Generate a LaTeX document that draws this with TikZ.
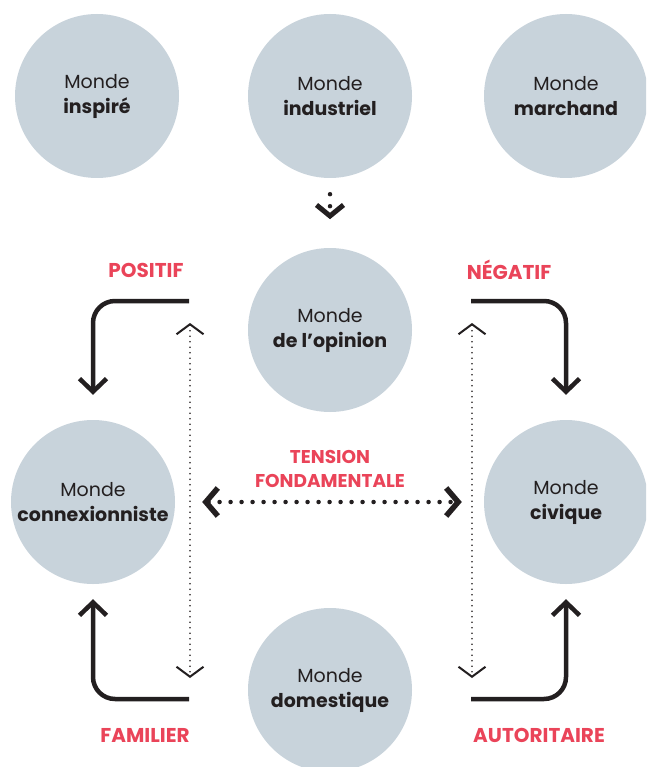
\documentclass[tikz,border=0pt]{standalone}
\usepackage{fontspec}
\setmainfont{Poppins}
\usetikzlibrary{arrows.meta}
\definecolor{worldfill}{HTML}{C8D3DB}
\definecolor{accent}{HTML}{EA4459}
\definecolor{ink}{HTML}{231F20}
\begin{document}
\begin{tikzpicture}[x=1pt,y=-1pt,
  world/.style={circle, fill=worldfill, minimum size=164pt, inner sep=0pt,
    align=center, font=\fontsize{19}{25}\selectfont, text=ink},
  tag/.style={text=accent, font=\bfseries\fontsize{20}{25}\selectfont, align=center},
  flow/.style={line width=4.5pt, draw=ink, rounded corners=22pt,
    -{Straight Barb[length=13pt,width=27pt]}},
  dotlink/.style={line width=1.6pt, draw=ink, dash pattern=on 0pt off 5.5pt, line cap=round,
    {Straight Barb[length=10pt,width=27pt,line width=2pt]}-{Straight Barb[length=10pt,width=27pt,line width=2pt]}},
  strain/.style={line width=4.5pt, draw=ink, dash pattern=on 0pt off 11pt, line cap=round,
    {Straight Barb[length=12pt,width=28pt,line width=5.5pt]}-{Straight Barb[length=12pt,width=28pt,line width=5.5pt]}},
  hintarrow/.style={line width=4.5pt, draw=ink, dash pattern=on 0pt off 12pt, line cap=round,
    -{Straight Barb[length=11pt,width=27pt,line width=5pt]}}
]
\useasboundingbox (0,0) rectangle (646,767);
\clip (0,0) rectangle (646,767);

% the seven worlds
\node[world] (insp) at (97,96)  {Monde\\\textbf{inspiré}};
\node[world] (ind)  at (330,96) {Monde\\\textbf{industriel}};
\node[world] (marc) at (566,96) {Monde\\\textbf{marchand}};
\node[world] (opin) at (330,330) {Monde\\\textbf{de l’opinion}};
\node[world] (conn) at (93,502) {Monde\\\textbf{connexionniste}};
\node[world] (civ)  at (566,502) {Monde\\\textbf{civique}};
\node[world] (dom)  at (330,690) {Monde\\\textbf{domestique}};

% labels
\node[tag] (pos) at (146,270) {POSITIF};
\node[tag] (neg) at (509,270) {NÉGATIF};
\node[tag] (fam) at (145,735) {FAMILIER};
\node[tag] (aut) at (539,735) {AUTORITAIRE};
\node[tag, font=\bfseries\fontsize{18.5}{25}\selectfont] (ten) at (330,469) {TENSION\\[-1pt]FONDAMENTALE};

% small hint arrow below the industrial world
\draw[hintarrow] ([yshift=-16pt]ind.south) -- ([yshift=-41pt]ind.south);

% bent arrows
\coordinate (ptl) at (189,301);
\coordinate (ptr) at (471,301);
\coordinate (pbl) at (189,699);
\coordinate (pbr) at (471,699);
\draw[flow, shorten >=25pt] (ptl) -| (conn.north);
\draw[flow, shorten >=25pt] (ptr) -| (civ.north);
\draw[flow, shorten >=15pt] (pbl) -| (conn.south);
\draw[flow, shorten >=15pt] (pbr) -| (civ.south);

% vertical dotted links
\coordinate (lt) at (190,323);
\coordinate (lb) at (190,678);
\coordinate (rt) at (472,323);
\coordinate (rb) at (472,678);
\draw[dotlink] (lt) -- (lb);
\draw[dotlink] (rt) -- (rb);

% fundamental tension
\draw[strain] ([xshift=27pt]conn.east) -- ([xshift=-22pt]civ.west);
\end{tikzpicture}
\end{document}
